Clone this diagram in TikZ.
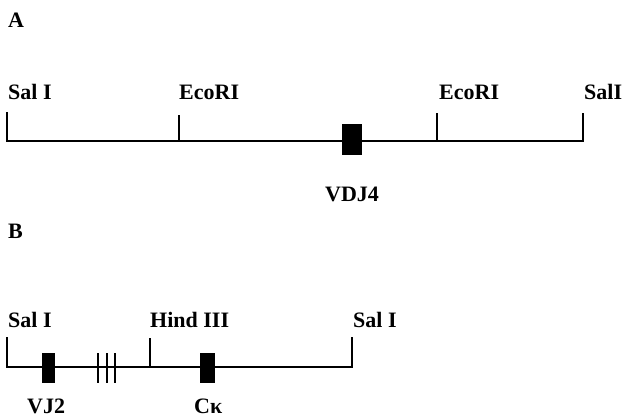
\documentclass[tikz,border=0pt]{standalone}
\usepackage{fontspec}
\setmainfont{Liberation Serif}
\begin{document}
\begin{tikzpicture}[x=1pt,y=-1pt,
  lbl/.style={font=\fontsize{22}{24}\selectfont\bfseries, inner sep=0pt, anchor=base west},
  dna/.style={line width=2pt},
  hatch/.style={line width=1.6pt},
  gene/.style={fill=black, draw=none, inner sep=0pt}]
\useasboundingbox (0,0) rectangle (623,418);
% Panel A
\node[lbl] (labA) at (8,27) {A};
\node[lbl] (a1) at (8,99) {Sal I};
\node[lbl] (a2) at (179,99) {EcoRI};
\node[lbl] (a3) at (439,99) {EcoRI};
\node[lbl] (a4) at (584,99) {SalI};
\coordinate (aL) at (7,112);
\coordinate (aLb) at (7,141);
\coordinate (aR) at (583,113);
\coordinate (aRb) at (583,141);
\coordinate (e1t) at (179,115);
\coordinate (e1b) at (179,141);
\coordinate (e2t) at (437,113);
\coordinate (e2b) at (437,141);
\draw[dna] (aL) -- (aLb) -- (aRb) -- (aR);
\draw[dna] (e1t) -- (e1b);
\draw[dna] (e2t) -- (e2b);
\node[gene, minimum width=20pt, minimum height=31pt] (vdj4box) at (352,139.5) {};
\node[lbl] (vdj4) at (325,201) {VDJ4};
% Panel B
\node[lbl] (labB) at (8,238) {B};
\node[lbl] (b1) at (8,327) {Sal I};
\node[lbl] (b2) at (150,327) {Hind III};
\node[lbl] (b3) at (353,327) {Sal I};
\coordinate (bL) at (7,337);
\coordinate (bLb) at (7,367);
\coordinate (bR) at (352,337);
\coordinate (bRb) at (352,367);
\coordinate (ht) at (150,338);
\coordinate (hb) at (150,367);
\draw[dna] (bL) -- (bLb) -- (bRb) -- (bR);
\draw[dna] (ht) -- (hb);
\node[gene, minimum width=13pt, minimum height=30pt] (vj2box) at (48.5,368) {};
\node[gene, minimum width=15pt, minimum height=30pt] (ckbox) at (207.5,368) {};
\coordinate (h1t) at (98,353); \coordinate (h1b) at (98,383);
\coordinate (h2t) at (107,353); \coordinate (h2b) at (107,383);
\coordinate (h3t) at (115,353); \coordinate (h3b) at (115,383);
\draw[hatch] (h1t) -- (h1b);
\draw[hatch] (h2t) -- (h2b);
\draw[hatch] (h3t) -- (h3b);
\node[lbl, text depth=0pt] (vj2) at (27,413.5) {VJ2};
\node[lbl, text depth=0pt] (ck) at (194,413.5) {Cκ};
\end{tikzpicture}
\end{document}
